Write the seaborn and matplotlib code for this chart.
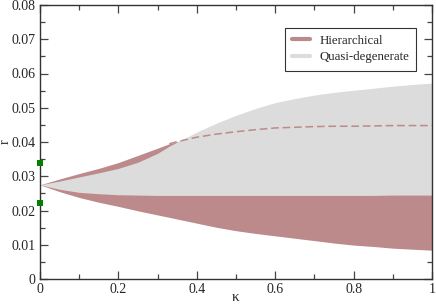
import matplotlib
matplotlib.use("Agg")
import matplotlib.pyplot as plt
from matplotlib.lines import Line2D
from matplotlib.ticker import MultipleLocator
import seaborn as sns
import pandas as pd

# ---- data ----
kappa = [0.0, 0.05, 0.1, 0.15, 0.2, 0.25, 0.3, 0.33, 0.35, 0.4, 0.45, 0.5,
         0.55, 0.6, 0.65, 0.7, 0.75, 0.8, 0.85, 0.9, 0.95, 1.0]
hier_hi = [0.0275, 0.0292, 0.0308, 0.0323, 0.0340, 0.0361, 0.0382, 0.0395, 0.0401,
           0.0414, 0.0423, 0.0430, 0.0436, 0.0441, 0.0443, 0.0445, 0.0446, 0.0446,
           0.0447, 0.0448, 0.0448, 0.0448]
hier_lo = [0.0275, 0.0255, 0.0238, 0.0224, 0.0212, 0.0199, 0.0187, 0.0180, 0.0175,
           0.0163, 0.0151, 0.0141, 0.0133, 0.0126, 0.0119, 0.0112, 0.0105, 0.0099,
           0.0095, 0.0090, 0.0087, 0.0084]
qd_hi = [0.0275, 0.0286, 0.0298, 0.0310, 0.0323, 0.0341, 0.0367, 0.0388, 0.0400,
         0.0429, 0.0455, 0.0478, 0.0498, 0.0515, 0.0527, 0.0537, 0.0545, 0.0551,
         0.0557, 0.0563, 0.0568, 0.0572]
qd_lo = [0.0275, 0.0262, 0.0253, 0.0249, 0.0246, 0.0245, 0.0244, 0.0244, 0.0244,
         0.0244, 0.0244, 0.0244, 0.0244, 0.0244, 0.0244, 0.0244, 0.0244, 0.0244,
         0.0244, 0.0245, 0.0245, 0.0245]
dash_start = 0.33
green_kappa = [0.0, 0.0]
green_r = [0.0338, 0.0221]
labels = ["Hierarchical", "Quasi-degenerate"]
xtick_vals = [0, 0.2, 0.4, 0.6, 0.8, 1.0]
xtick_labels = ["0", "0.2", "0.4", "0.6", "0.8", "1"]
ytick_vals = [0, 0.01, 0.02, 0.03, 0.04, 0.05, 0.06, 0.07, 0.08]
ytick_labels = ["0", "0.01", "0.02", "0.03", "0.04", "0.05", "0.06", "0.07", "0.08"]

brown = "#BC8A8A"
gray = "#DCDCDC"
green = "#008000"

sns.set_style("ticks")
plt.rcParams["font.family"] = ["Liberation Serif", "DejaVu Serif"]

fig = plt.figure(figsize=(4.36, 3.06), dpi=100)
ax = fig.add_axes([40 / 436, 1 - 279 / 306, 392 / 436, 274 / 306])

df = pd.DataFrame({"kappa": kappa, "hier_hi": hier_hi, "hier_lo": hier_lo,
                   "qd_hi": qd_hi, "qd_lo": qd_lo})

ax.fill_between(df["kappa"], df["hier_lo"], df["hier_hi"], color=brown, lw=0, zorder=1)
ax.fill_between(df["kappa"], df["qd_lo"], df["qd_hi"], color=gray, lw=0, zorder=2)

dd = df[df["kappa"] >= dash_start]
sns.lineplot(data=dd, x="kappa", y="hier_hi", ax=ax, color=brown, lw=1.1,
             linestyle=(0, (5, 2.5)), zorder=3)

gdf = pd.DataFrame({"kappa": green_kappa, "r": green_r})
sns.scatterplot(data=gdf, x="kappa", y="r", ax=ax, color=green, marker="s", s=22,
                edgecolor=green, linewidth=0, clip_on=False, zorder=5)

ax.set_xlim(0, 1)
ax.set_ylim(0, 0.08)
ax.xaxis.set_minor_locator(MultipleLocator(0.1))
ax.yaxis.set_minor_locator(MultipleLocator(0.005))
ax.set_xticks(xtick_vals)
ax.set_xticklabels(xtick_labels)
ax.set_yticks(ytick_vals)
ax.set_yticklabels(ytick_labels)
ax.tick_params(which="both", direction="in", top=True, right=True,
               labelsize=10, width=0.9, color="#444444", pad=3)
ax.tick_params(which="major", length=6)
ax.tick_params(which="minor", length=3.5)
for s in ax.spines.values():
    s.set_color("#333333")
    s.set_linewidth(1.0)

ax.set_xlabel("κ", fontsize=11)
ax.set_ylabel("r", fontsize=10)
ax.xaxis.set_label_coords(0.5, -0.045)
ax.yaxis.set_label_coords(-0.071, 0.5)

handles = [Line2D([], [], color=brown, lw=3), Line2D([], [], color=gray, lw=3)]
leg = ax.legend(handles, labels, loc="upper right", bbox_to_anchor=(0.9595, 0.917),
                fontsize=9.3, frameon=True, fancybox=False, handlelength=1.4,
                borderpad=0.55, labelspacing=0.35, handletextpad=0.7, borderaxespad=0)
leg.get_frame().set_edgecolor("black")
leg.get_frame().set_linewidth(0.8)

fig.savefig("out.png", dpi=100)
